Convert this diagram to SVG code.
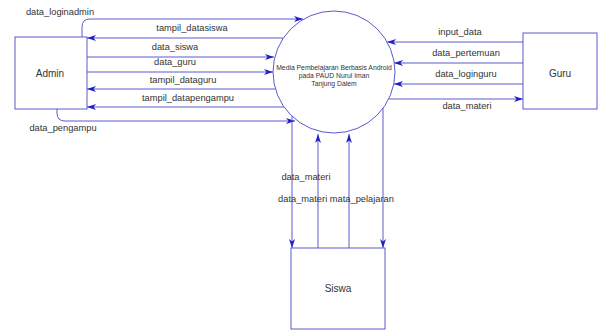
<svg xmlns="http://www.w3.org/2000/svg" width="601" height="331" viewBox="0 0 601 331">
<style>
.box{fill:#fff;stroke:#5a5acf;stroke-width:1}
.ln{fill:none;stroke:#5a5acf;stroke-width:1}
.lbl{font-family:"Liberation Sans",Arial,sans-serif;font-size:9.3px;fill:#333;text-anchor:middle}
.nm{font-family:"Liberation Sans",Arial,sans-serif;font-size:10px;fill:#333;text-anchor:middle}
.pc{font-family:"Liberation Sans",Arial,sans-serif;font-size:6.8px;fill:#333;text-anchor:middle}
</style>
<defs>
<marker id="ah" markerUnits="userSpaceOnUse" markerWidth="10" markerHeight="6" refX="9" refY="3" orient="auto">
<path d="M0,0 L9,3 L0,6 L2.5,3 z" fill="#1f1fc4"/>
</marker>
</defs>
<rect width="601" height="331" fill="#fff"/>
<g id="connectors">
<path class="ln" marker-end="url(#ah)" d="M82,37 L82,27 Q82,19 90,19 L303,19"/>
<path class="ln" marker-end="url(#ah)" d="M283,38 L87,38"/>
<path class="ln" marker-end="url(#ah)" d="M87,57 L274,57"/>
<path class="ln" marker-end="url(#ah)" d="M87,72 L273,72"/>
<path class="ln" marker-end="url(#ah)" d="M275,89 L87,89"/>
<path class="ln" marker-end="url(#ah)" d="M284,107 L87,107"/>
<path class="ln" marker-end="url(#ah)" d="M57,109 L57,113 Q57,121 65,121 L295,121"/>
<path class="ln" marker-end="url(#ah)" d="M523,42 L387,42"/>
<path class="ln" marker-end="url(#ah)" d="M523,63 L394,63"/>
<path class="ln" marker-end="url(#ah)" d="M523,84 L394,84"/>
<path class="ln" marker-end="url(#ah)" d="M389,99 L523,99"/>
<path class="ln" marker-end="url(#ah)" d="M292,116 L292,248"/>
<path class="ln" marker-end="url(#ah)" d="M318,248 L318,134"/>
<path class="ln" marker-end="url(#ah)" d="M349,248 L349,134"/>
<path class="ln" marker-end="url(#ah)" d="M383,108 L383,248"/>
<text class="lbl" x="60" y="15">data_loginadmin</text>
<text class="lbl" x="192" y="31">tampil_datasiswa</text>
<text class="lbl" x="175" y="50">data_siswa</text>
<text class="lbl" x="175" y="65">data_guru</text>
<text class="lbl" x="183" y="83">tampil_dataguru</text>
<text class="lbl" x="188" y="101">tampil_datapengampu</text>
<text class="lbl" x="63" y="131">data_pengampu</text>
<text class="lbl" x="460" y="35">input_data</text>
<text class="lbl" x="466" y="56">data_pertemuan</text>
<text class="lbl" x="466" y="77">data_loginguru</text>
<text class="lbl" x="467" y="109">data_materi</text>
<text class="lbl" x="306" y="180">data_materi</text>
<text class="lbl" x="336" y="202">data_materi mata_pelajaran</text>
</g>
<g id="admin">
<rect class="box" x="15" y="37" width="72" height="72"/>
<text class="nm" x="50" y="77">Admin</text>
</g>
<g id="sistem">
<circle class="box" cx="334" cy="72" r="61"/>
<text class="pc" x="334" y="70">Media Pembelajaran Berbasis Android</text>
<text class="pc" x="334" y="78">pada PAUD Nurul Iman</text>
<text class="pc" x="334" y="86">Tanjung Dalem</text>
</g>
<g id="guru">
<rect class="box" x="523" y="33" width="74" height="76"/>
<text class="nm" x="560" y="77">Guru</text>
</g>
<g id="siswa">
<rect class="box" x="291" y="248" width="94" height="81"/>
<text class="nm" x="338" y="292">Siswa</text>
</g>
</svg>
